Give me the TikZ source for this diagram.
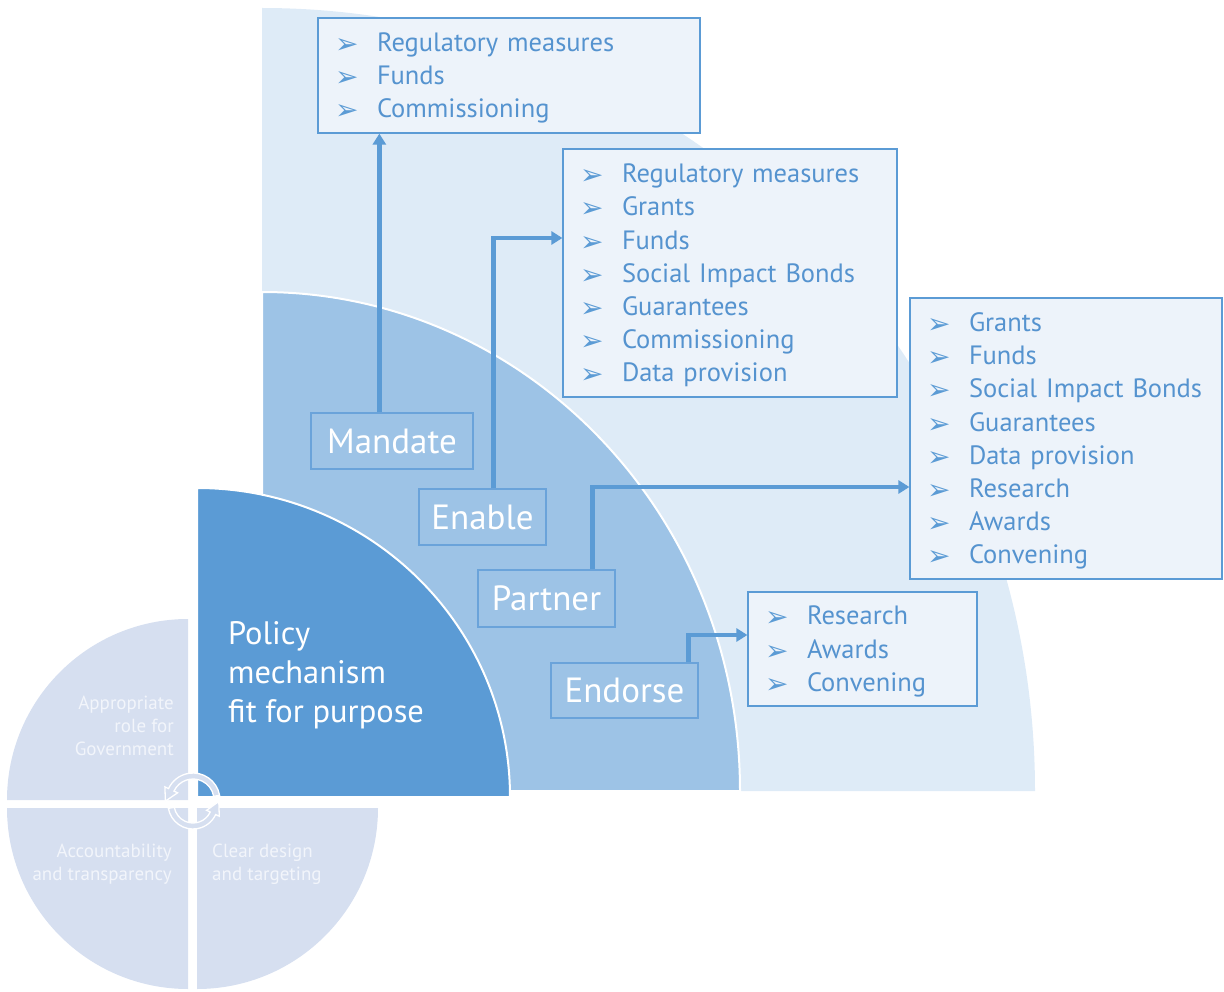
\documentclass[tikz,border=0pt]{standalone}
\usepackage{fontspec}
\setmainfont{PT Sans}
\newfontfamily\dingfont{DejaVu Sans}
\usetikzlibrary{arrows.meta}
\definecolor{dkblue}{HTML}{5B9BD5}
\definecolor{mdblue}{HTML}{9DC3E6}
\definecolor{ltblue}{HTML}{DEEBF7}
\definecolor{boxfill}{HTML}{EDF3FA}
\definecolor{quadcol}{HTML}{D6DFF0}
\definecolor{txtblue}{HTML}{5593CF}
\definecolor{lblborder}{HTML}{6AA3DA}
\definecolor{circtxt}{HTML}{F2F5FB}
\newcommand\itm[1]{\makebox[42pt][l]{\dingfont\fontsize{28}{28}\selectfont\color{dkblue}\raisebox{-2pt}{➢}}#1}
\newcommand\topstrut{\rule{0pt}{24pt}}
\tikzset{
  listbox/.style={draw=dkblue, line width=1.2pt, fill=boxfill, text=txtblue,
    inner xsep=17pt, inner ysep=0pt, align=left, font=\fontsize{26.5}{33.2}\selectfont},
  lblbox/.style={draw=lblborder, line width=1.3pt, text=white, inner sep=0pt,
    font=\fontsize{35}{35}\selectfont},
  conn/.style={draw=dkblue, line width=4.5pt, -{Triangle[length=11pt,width=13pt]}},
  cyc/.style={fill=quadcol, draw=white, line width=1.3pt},
  circlbl/.style={text=circtxt, inner sep=0pt, font=\fontsize{19}{23}\selectfont}
}
\begin{document}
\begin{tikzpicture}[x=1pt,y=1pt]
\useasboundingbox (0,0) rectangle (1224,-992);
% background quarters
\fill[ltblue] (262,-791) -- (1035,-791) arc[start angle=0,end angle=90,x radius=773,y radius=783] -- cycle;
\filldraw[fill=mdblue, draw=white, line width=2pt] (262,-791) -- (740,-791) arc[start angle=0,end angle=90,x radius=478,y radius=499] -- cycle;
% circle quadrants
\fill[quadcol] (188,-800) -- (188,-619) arc[start angle=90,end angle=180,radius=181] -- cycle;
\fill[quadcol] (188,-808) -- (7,-808) arc[start angle=180,end angle=270,radius=181] -- cycle;
\fill[quadcol] (197,-808) -- (197,-989) arc[start angle=270,end angle=360,radius=181] -- cycle;
% dark quarter
\filldraw[fill=dkblue, draw=white, line width=2pt] (197,-797) -- (510,-797) arc[start angle=0,end angle=90,x radius=313,y radius=309] -- cycle;
% circular arrows
\begin{scope}[shift={(193,-800)}]
\filldraw[cyc] (10:27) arc[start angle=10,end angle=155,radius=27] -- (155:31) -- (-27.6,-1.1) -- (155:17) -- (155:21) arc[start angle=155,end angle=10,radius=21] -- cycle;
\end{scope}
\begin{scope}[shift={(193,-804)}]
\filldraw[cyc] (190:25) arc[start angle=190,end angle=335,radius=25] -- (335:29) -- (25.8,2.5) -- (335:15) -- (335:19) arc[start angle=335,end angle=190,radius=19] -- cycle;
\end{scope}
% circle labels
\node[circlbl, anchor=north east, align=right] (role) at (174,-696) {Appropriate\\role for\\Government};
\node[circlbl, anchor=north east, align=right] (acct) at (172,-844) {Accountability\\and transparency};
\node[circlbl, anchor=north west, align=left] (clear) at (212,-844) {Clear design\\and targeting};
% central label
\node[anchor=north west, align=left, inner sep=0pt, text=white, font=\fontsize{32.5}{39}\selectfont] (policy) at (228,-621) {Policy\\mechanism\\fit for purpose};
% list boxes
\node[listbox, text width=348pt, minimum height=115pt] (box1) at (509,-75.5)
  {\topstrut\itm{Regulatory measures}\\\itm{Funds}\\\itm{Commissioning}};
\node[listbox, text width=300pt, minimum height=248pt] (box2) at (730,-273)
  {\topstrut\itm{Regulatory measures}\\\itm{Grants}\\\itm{Funds}\\\itm{Social Impact Bonds}\\\itm{Guarantees}\\\itm{Commissioning}\\\itm{Data provision}};
\node[listbox, text width=278pt, minimum height=281pt] (box3) at (1066,-438.5)
  {\topstrut\itm{Grants}\\\itm{Funds}\\\itm{Social Impact Bonds}\\\itm{Guarantees}\\\itm{Data provision}\\\itm{Research}\\\itm{Awards}\\\itm{Convening}};
\node[listbox, text width=195pt, minimum height=114pt] (box4) at (862.5,-649)
  {\topstrut\itm{Research}\\\itm{Awards}\\\itm{Convening}};
% role labels
\node[lblbox, minimum width=162pt, minimum height=56pt] (mandate) at (392,-441) {Mandate};
\node[lblbox, minimum width=127pt, minimum height=56pt] (enable) at (482.5,-517) {Enable};
\node[lblbox, minimum width=137pt, minimum height=57pt] (partner) at (546.5,-598.5) {Partner};
\node[lblbox, minimum width=147pt, minimum height=55pt] (endorse) at (624.5,-690.5) {Endorse};
% connectors
\draw[conn] ([xshift=69pt]mandate.north west) -- ([xshift=69pt]mandate.north west |- box1.south);
\draw[conn] ([xshift=75pt]enable.north west) |- ([yshift=35pt]box2.west);
\draw[conn] ([xshift=115pt]partner.north west) |- ([yshift=-48.5pt]box3.west);
\draw[conn] ([xshift=138pt]endorse.north west) |- ([yshift=14pt]box4.west);
\end{tikzpicture}
\end{document}
